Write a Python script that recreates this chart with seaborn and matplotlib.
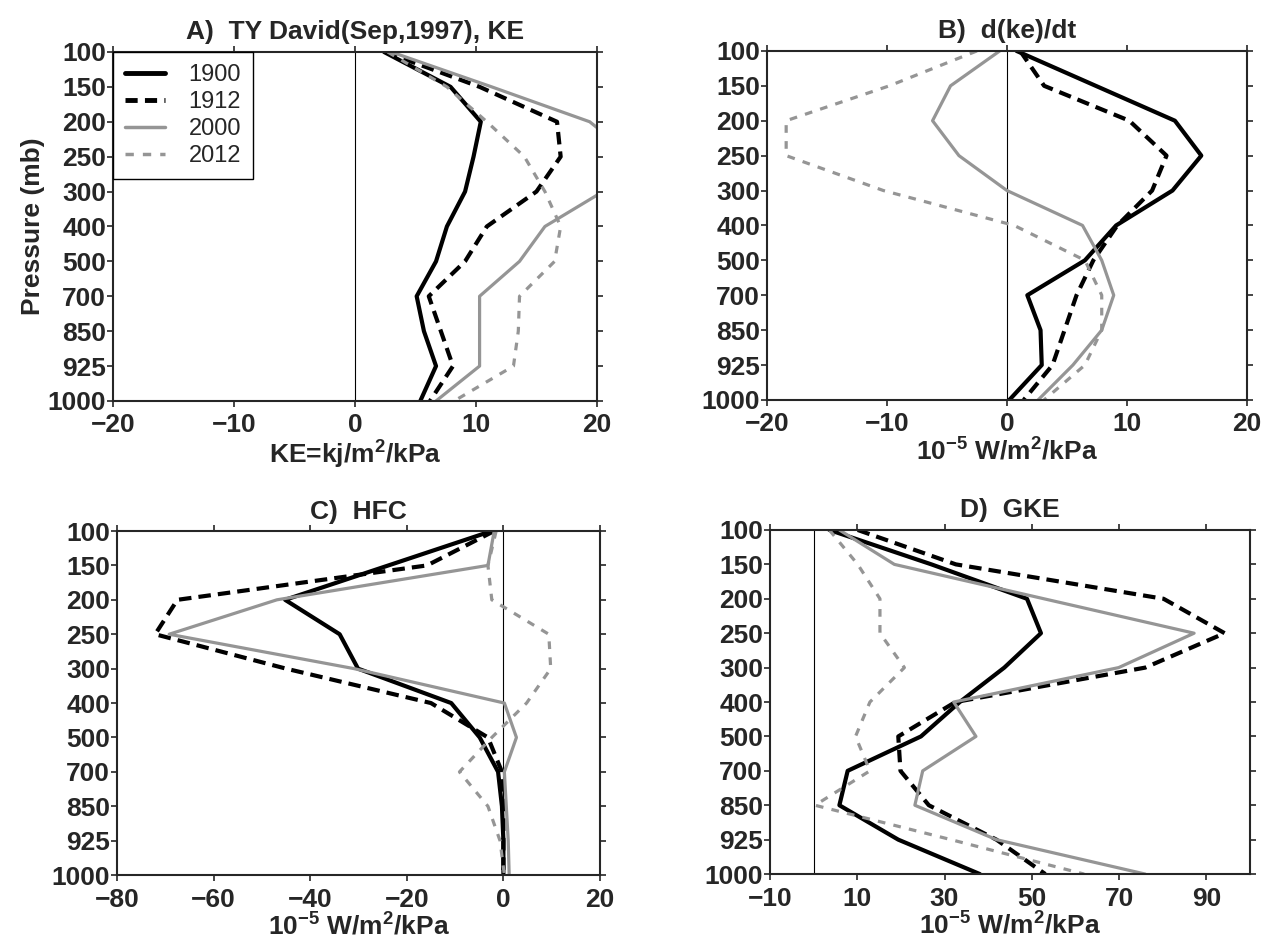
import matplotlib
matplotlib.use('Agg')
import matplotlib.pyplot as plt
import pandas as pd
import seaborn as sns
import numpy as np

# pressure levels (mb), plotted evenly spaced
levels = [100, 150, 200, 250, 300, 400, 500, 700, 850, 925, 1000]
years = ['1900', '1912', '2000', '2012']

# A) KE
ke_1900 = [2.4, 7.9, 10.4, 9.8, 9.1, 7.6, 6.7, 5.1, 5.7, 6.7, 5.4]
ke_1912 = [2.5, 10.3, 16.7, 17.0, 15.0, 10.9, 9.1, 6.1, 7.1, 8.1, 6.2]
ke_2000 = [3.0, 11.3, 19.4, 23.0, 20.5, 15.7, 13.6, 10.3, 10.3, 10.3, 6.7]
ke_2012 = [2.7, 7.6, 10.9, 14.0, 15.7, 17.0, 16.5, 13.6, 13.5, 13.1, 8.2]

# B) d(ke)/dt
dke_1900 = [0.8, 7.4, 14.0, 16.2, 13.8, 9.1, 6.5, 1.7, 2.8, 2.9, 0.2]
dke_1912 = [1.1, 3.1, 10.2, 13.3, 12.1, 9.2, 7.2, 5.8, 4.8, 3.8, 1.4]
dke_2000 = [-0.6, -4.7, -6.2, -4.0, 0.0, 6.3, 7.9, 8.9, 7.9, 5.5, 2.6]
dke_2012 = [-2.5, -9.8, -18.4, -18.4, -10.3, 0.6, 6.5, 7.9, 7.9, 6.5, 3.1]

# C) HFC
hfc_1900 = [-2.4, -23.8, -45.2, -33.9, -30.1, -10.8, -4.9, -1.1, -0.3, 0.0, 0.0]
hfc_1912 = [-1.9, -15.8, -67.5, -72.1, -45.0, -15.0, -3.2, -0.3, 0.0, 0.0, 0.0]
hfc_2000 = [-1.9, -3.2, -46.9, -69.2, -30.9, 0.2, 2.7, 0.2, 0.6, 1.0, 1.2]
hfc_2012 = [-1.5, -3.2, -2.4, 9.4, 9.8, 4.8, -2.4, -9.1, -3.2, -0.7, 0.2]

# D) GKE
gke_1900 = [3.6, 27.0, 48.9, 52.1, 43.7, 33.5, 24.6, 7.8, 5.9, 19.4, 38.1]
gke_1912 = [10.1, 32.6, 80.2, 94.2, 76.0, 32.5, 19.4, 19.9, 26.4, 41.9, 53.1]
gke_2000 = [5.9, 18.5, 52.8, 87.2, 69.9, 32.1, 37.2, 25.0, 23.2, 41.9, 76.0]
gke_2012 = [3.6, 10.1, 15.2, 15.2, 20.8, 12.9, 9.6, 12.9, 0.3, 31.5, 62.0]

panels = [
    ('A)  TY David(Sep,1997), KE', 'KE=kj/m$^2$/kPa', [ke_1900, ke_1912, ke_2000, ke_2012],
     (-20, 20), [-20, -10, 0, 10, 20]),
    ('B)  d(ke)/dt', '10$^{-5}$ W/m$^2$/kPa', [dke_1900, dke_1912, dke_2000, dke_2012],
     (-20, 20), [-20, -10, 0, 10, 20]),
    ('C)  HFC', '10$^{-5}$ W/m$^2$/kPa', [hfc_1900, hfc_1912, hfc_2000, hfc_2012],
     (-80, 20), [-80, -60, -40, -20, 0, 20]),
    ('D)  GKE', '10$^{-5}$ W/m$^2$/kPa', [gke_1900, gke_1912, gke_2000, gke_2012],
     (-10, 100), [-10, 10, 30, 50, 70, 90]),
]

sns.set_style('ticks')
plt.rcParams['font.family'] = ['Liberation Sans', 'DejaVu Sans']
plt.rcParams['mathtext.fontset'] = 'custom'
plt.rcParams['mathtext.rm'] = 'Liberation Sans:bold'
plt.rcParams['mathtext.default'] = 'rm'

FS = 19
gray = '#959595'
palette = {'1900': 'black', '1912': 'black', '2000': gray, '2012': gray}
dashes = {'1900': '', '1912': (3, 1.7), '2000': '', '2012': (2.4, 2.6)}
sizes = {'1900': 3.0, '1912': 3.0, '2000': 2.3, '2012': 2.3}

fig = plt.figure(figsize=(12.65, 9.43), dpi=100)
rects = [
    [0.0893, 0.5748, 0.3826, 0.3701],
    [0.6063, 0.5759, 0.3794, 0.3701],
    [0.0925, 0.0720, 0.3818, 0.3649],
    [0.6087, 0.0731, 0.3794, 0.3649],
]

for i, (title, xlabel, series, xlim, xticks) in enumerate(panels):
    ax = fig.add_axes(rects[i])
    rows = []
    for yr, vals in zip(years, series):
        for k, v in enumerate(vals):
            rows.append({'value': v, 'lev': k, 'year': yr})
    df = pd.DataFrame(rows)
    ax.axvline(0, color='black', lw=0.8, zorder=1)
    sns.lineplot(data=df, x='value', y='lev', hue='year', style='year', size='year',
                 palette=palette, dashes=dashes, sizes=sizes, sort=False,
                 estimator=None, ax=ax, legend=False)
    ax.set_xlim(*xlim)
    ax.set_ylim(len(levels) - 1, 0)
    ax.set_yticks(range(len(levels)))
    ax.set_yticklabels([str(l) for l in levels])
    ax.set_xticks(xticks)
    ax.set_xticklabels([str(t).replace('-', '\u2212') for t in xticks])
    ax.tick_params(direction='out', length=4, width=1.2, top=True, right=True,
                   labelsize=FS, pad=1)
    ax.tick_params(axis='x', pad=5)
    for lab in ax.get_xticklabels() + ax.get_yticklabels():
        lab.set_fontweight('bold')
    for sp in ax.spines.values():
        sp.set_linewidth(1.5)
        sp.set_visible(True)
    ax.set_title(title, fontsize=FS, fontweight='bold', pad=9)
    ax.set_xlabel(xlabel, fontsize=FS, fontweight='bold', labelpad=1)
    if i == 0:
        ax.set_ylabel('Pressure (mb)', fontsize=FS, fontweight='bold', labelpad=2)
        handles = [
            plt.Line2D([], [], color='black', lw=3.5),
            plt.Line2D([], [], color='black', lw=3.5, dashes=(2.5, 1.5)),
            plt.Line2D([], [], color=gray, lw=2.5),
            plt.Line2D([], [], color=gray, lw=2.5, dashes=(2.4, 2.6)),
        ]
        leg = ax.legend(handles, years, loc='upper left', borderaxespad=0,
                        fancybox=False, framealpha=1, edgecolor='black',
                        fontsize=17, handlelength=1.7, handletextpad=1.0,
                        labelspacing=0.22, borderpad=0.5)
        leg.get_frame().set_linewidth(1.0)
    else:
        ax.set_ylabel('')

fig.savefig('out.png', dpi=100)
